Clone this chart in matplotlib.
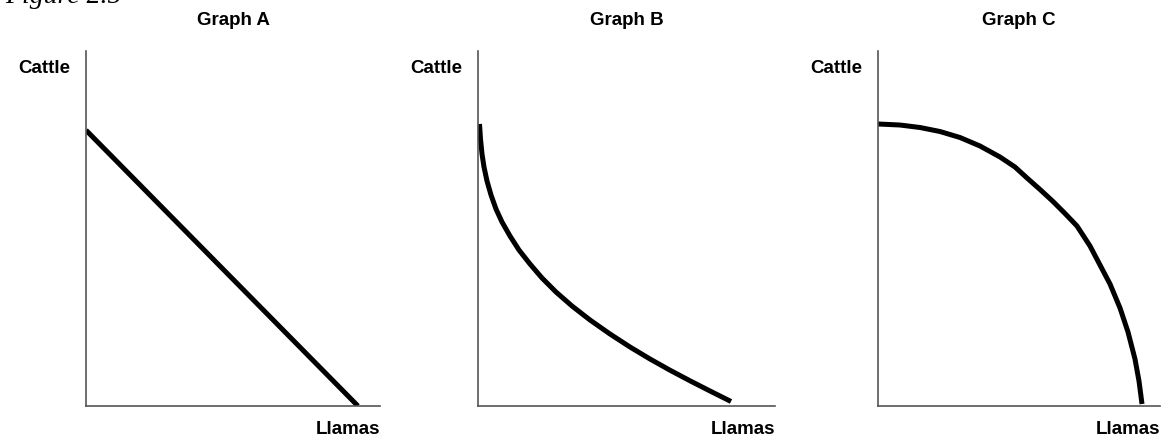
import numpy as np
import matplotlib.pyplot as plt

plt.rcParams['font.family'] = ['Liberation Sans', 'DejaVu Sans']

titles = ['Graph A', 'Graph B', 'Graph C']
x_label = 'Llamas'
y_label = 'Cattle'

# curves (axis units 0-10)
a_x = [0.0, 9.25]
a_y = [7.77, 0.0]

b_x = [0.051, 0.084, 0.135, 0.202, 0.303, 0.438, 0.606, 0.808, 1.077, 1.380, 1.751,
       2.155, 2.626, 3.165, 3.771, 4.444, 5.118, 5.791, 6.465, 7.138, 7.811, 8.519]
b_y = [7.944, 7.521, 7.099, 6.732, 6.338, 5.944, 5.549, 5.183, 4.789, 4.394, 4.000,
       3.606, 3.211, 2.817, 2.423, 2.028, 1.662, 1.324, 1.008, 0.710, 0.423, 0.127]

c_x = [0.000, 0.780, 1.489, 2.199, 2.908, 3.617, 4.326, 4.858, 5.284, 5.745, 6.206,
       6.631, 7.057, 7.518, 7.872, 8.227, 8.582, 8.865, 9.113, 9.255, 9.362]
c_y = [7.944, 7.915, 7.845, 7.732, 7.563, 7.324, 7.014, 6.732, 6.423, 6.099, 5.761,
       5.423, 5.070, 4.507, 3.972, 3.437, 2.761, 2.085, 1.324, 0.704, 0.056]

curves = [(a_x, a_y), (b_x, b_y), (c_x, c_y)]

W, H = 1166, 439
fig = plt.figure(figsize=(W / 100, H / 100), dpi=100)

# axes boxes in pixels: left, right
boxes = [(86, 380), (478, 775), (878, 1160)]
top, bottom = 52, 407

for (l, r), title, (xs, ys) in zip(boxes, titles, curves):
    ax = fig.add_axes([l / W, 1 - bottom / H, (r - l) / W, (bottom - top) / H])
    ax.plot(xs, ys, color='black', lw=3.6, solid_capstyle='butt',
            solid_joinstyle='round')
    ax.set_xlim(0, 10)
    ax.set_ylim(0, 10)
    for s in ['top', 'right']:
        ax.spines[s].set_visible(False)
    for s in ['left', 'bottom']:
        ax.spines[s].set_color('#555555')
        ax.spines[s].set_linewidth(1.2)
    ax.set_xticks([])
    ax.set_yticks([])
    ax.patch.set_alpha(0)
    ax.annotate(title, xy=(0.5, 1), xycoords='axes fraction',
                xytext=(0, 22.5), textcoords='offset points',
                ha='center', va='center', fontsize=13.5, fontweight='bold')
    ax.annotate(y_label, xy=(0, 1), xycoords='axes fraction',
                xytext=(-11, -12), textcoords='offset points',
                ha='right', va='center', fontsize=13.5, fontweight='bold')
    ax.annotate(x_label, xy=(1, 0), xycoords='axes fraction',
                xytext=(0, -16), textcoords='offset points',
                ha='right', va='center', fontsize=13.5, fontweight='bold')

# the reference shows this caption clipped at the top edge
fig.text(5 / W, 1 - 3 / H, 'Figure 2.5', family=['Liberation Serif', 'DejaVu Serif'],
         style='italic', fontsize=20, ha='left', va='baseline')

fig.savefig('out.png', dpi=100)
